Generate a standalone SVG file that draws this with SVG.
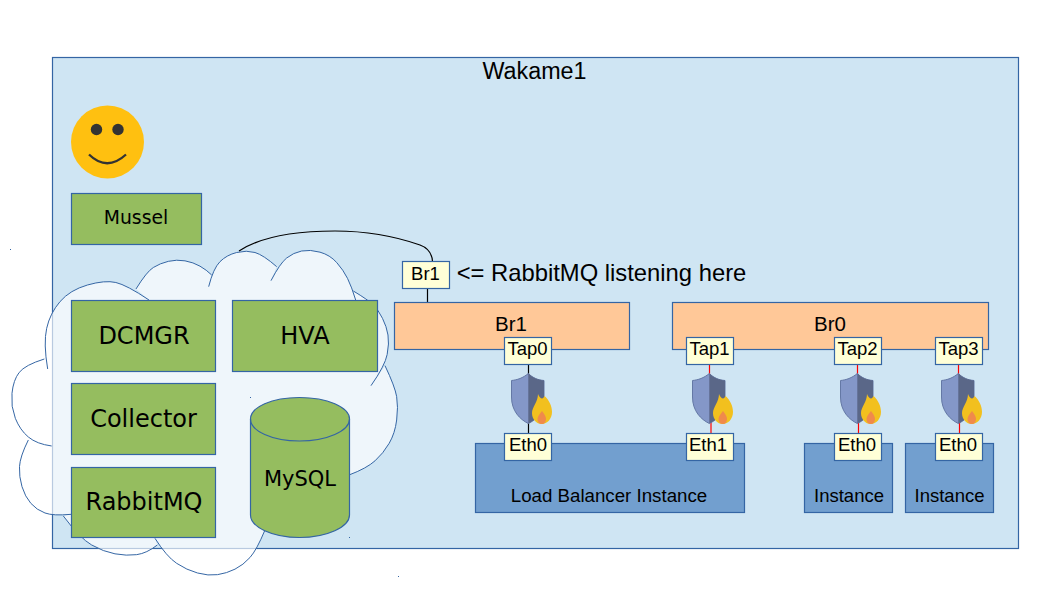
<svg xmlns="http://www.w3.org/2000/svg" width="1058" height="595" viewBox="0 0 1058 595">
<style>
.b{stroke:#3465A4;stroke-width:1.2}
.g{fill:#95BD5F}
.y{fill:#FFFFD7}
.o{fill:#FFC898}
.m{fill:#729FCF}
.d{font-family:"DejaVu Sans",sans-serif;fill:#000;text-anchor:middle}
.l{font-family:"Liberation Sans",Arial,sans-serif;fill:#000;text-anchor:middle}
.c{fill:none;stroke-width:1.2}
</style>
<defs>
<g id="fw">
<path d="M528.3 373.5C523 378 517 380 511.5 380.5V397C511.5 411 520 419.5 528.3 423.5C537 419.5 544 411 544 397V380.5C538 380 533 378 528.3 373.5Z" fill="#8497C8" stroke="#6478A5" stroke-width="1"/>
<path d="M528.3 373.5C533 378 538 380 544 380.5V397C544 411 537 419.5 528.3 423.5Z" fill="#5A6788"/>
<path d="M538 394C540 399 543 400 544.5 396C549 400 552 406 552 412C552 419 547 424 542 424C536 424 532 419 532 413C532 407 538 402 538 394Z" fill="#F2C01E"/>
<path d="M542 411C544 414 546 416 546 419C546 422 544 424 542 424C539 424 537.500 422 537.500 419C537.500 416 540 414 542 411Z" fill="#F08A4B"/>
</g>
</defs>
<rect width="1058" height="595" fill="#fff"/>
<g id="wakame1">
<rect class="b" x="52.500" y="57.500" width="966" height="491" fill="#CFE5F3"/>
<text class="l" x="534.500" y="79" font-size="23.300">Wakame1</text>
</g>
<g id="cloud">
<g transform="translate(0 220) scale(.33333)">
<path fill="#fff" fill-opacity=".66" d="M408 207Q440 155 460 142.500Q480 130 505 124Q530 118 555 122.500Q580 127 600 138.500Q620 150 635 165L626 200Q640 145 660 125Q680 105 710 97.500Q740 90 765 97.500Q790 105 830 140L813 182Q840 130 860 114Q880 98 905 93Q930 88 960 96.500Q990 105 1010 127.500Q1030 150 1042.500 175Q1055 200 1067 240L1060 213Q1105 240 1120 255Q1135 270 1147.500 295Q1160 320 1164 345Q1168 370 1161.500 403.500Q1155 437 1113 497L1155 437Q1185 500 1190 530Q1195 560 1190 600Q1185 640 1167.500 670Q1150 700 1125 722.500Q1100 745 1047 765L795 930Q770 990 750 1012.500Q730 1035 705 1047.500Q680 1060 652.500 1064Q625 1068 592.500 1059Q560 1050 530 1030Q500 1010 465 955L472 975Q440 1000 410 1004Q380 1008 345 1001.500Q310 995 275 975Q240 955 190 888L213 883Q160 888 135 879Q110 870 92.500 850Q75 830 66 800Q57 770 58.500 740Q60 710 85 660L155 678Q110 672 85 651Q60 630 46 595Q32 560 36 520Q40 480 57.500 457.500Q75 435 133 417L143 447Q130 370 140 325Q150 280 180 245Q210 210 262.500 195Q315 180 347.500 187.500Q380 195 447 240Z"/>
<path fill="none" stroke="#3465A4" stroke-width="3" d="M408 207Q440 155 460 142.500Q480 130 505 124Q530 118 555 122.500Q580 127 600 138.500Q620 150 635 165M626 200Q640 145 660 125Q680 105 710 97.500Q740 90 765 97.500Q790 105 830 140M813 182Q840 130 860 114Q880 98 905 93Q930 88 960 96.500Q990 105 1010 127.500Q1030 150 1042.500 175Q1055 200 1067 240M1060 213Q1105 240 1120 255Q1135 270 1147.500 295Q1160 320 1164 345Q1168 370 1161.500 403.500Q1155 437 1113 497M1155 437Q1185 500 1190 530Q1195 560 1190 600Q1185 640 1167.500 670Q1150 700 1125 722.500Q1100 745 1047 765M795 930Q770 990 750 1012.500Q730 1035 705 1047.500Q680 1060 652.500 1064Q625 1068 592.500 1059Q560 1050 530 1030Q500 1010 465 955M472 975Q440 1000 410 1004Q380 1008 345 1001.500Q310 995 275 975Q240 955 190 888M213 883Q160 888 135 879Q110 870 92.500 850Q75 830 66 800Q57 770 58.500 740Q60 710 85 660M155 678Q110 672 85 651Q60 630 46 595Q32 560 36 520Q40 480 57.500 457.500Q75 435 133 417M143 447Q130 370 140 325Q150 280 180 245Q210 210 262.500 195Q315 180 347.500 187.500Q380 195 447 240"/>
</g>
<path fill="#3465A4" d="M10 249h1v1h-1zM250 397h1v1h-1zM349 537h1v1h-1zM398 576h1v1h-1z"/>
</g>
<g id="connectors">
<path class="c" stroke="#000" d="M239 251C262 236 300 231 335 231C370 231 400 238 420 245C428 248 432 253 432.500 261.500"/>
<path class="c" stroke="#000" d="M427.500 288V302M528.500 364V433"/>
<path class="c" stroke="#f00" d="M709.500 364V398M711 420V433M857.500 364V398M858.500 420V433M958.500 364V398M959.500 420V433"/>
</g>
<g id="smiley">
<circle cx="107.500" cy="142" r="36.500" fill="#FFC010"/>
<circle cx="96.500" cy="129.500" r="5.700" fill="#333"/>
<circle cx="118" cy="129.500" r="5.700" fill="#333"/>
<path d="M89 154.500Q107 172 126 154.500" fill="none" stroke="#333" stroke-width="2.300"/>
</g>
<g id="mussel"><rect class="b g" x="71.500" y="193.500" width="130" height="51"/><text class="d" x="136" y="224" font-size="18.800">Mussel</text></g>
<g id="dcmgr"><rect class="b g" x="71.500" y="300.500" width="144" height="71"/><text class="d" x="144" y="344" font-size="24">DCMGR</text></g>
<g id="collector"><rect class="b g" x="71.500" y="383.500" width="144" height="71"/><text class="d" x="143.500" y="427" font-size="24">Collector</text></g>
<g id="rabbitmq"><rect class="b g" x="71.500" y="467.500" width="144" height="70"/><text class="d" x="144" y="510" font-size="24">RabbitMQ</text></g>
<g id="hva"><rect class="b g" x="232.500" y="300.500" width="145" height="71"/><text class="d" x="305" y="344" font-size="24">HVA</text></g>
<g id="mysql">
<path class="b g" d="M250.500 419C250.500 407 272 397.500 299.500 397.500C327 397.500 349.500 407 349.500 419V515C349.500 527 327 537.500 299.500 537.500C272 537.500 250.500 527 250.500 515Z"/>
<path class="c" stroke="#3465A4" d="M250.500 419C250.500 431 272 441 299.500 441C327 441 349.500 431 349.500 419"/>
<text class="d" x="300" y="486" font-size="21">MySQL</text>
</g>
<g id="br1-big"><rect class="b o" x="394.500" y="302.500" width="235" height="47"/><text class="l" x="511" y="331" font-size="20.500">Br1</text></g>
<g id="br0"><rect class="b o" x="672.500" y="302.500" width="316" height="47"/><text class="l" x="830" y="331" font-size="20.500">Br0</text></g>
<g id="br1-small"><rect class="b y" x="402.500" y="261.500" width="47" height="27"/><text class="l" x="425.500" y="280" font-size="18.500">Br1</text></g>
<text class="l" x="601.500" y="281" font-size="23.800">&lt;= RabbitMQ listening here</text>
<g id="lb"><rect class="b m" x="475.500" y="443.500" width="269" height="69"/><text class="l" x="609" y="502" font-size="18.700">Load Balancer Instance</text></g>
<g id="instance1"><rect class="b m" x="804.500" y="443.500" width="88" height="69"/><text class="l" x="849" y="502" font-size="18.500">Instance</text></g>
<g id="instance2"><rect class="b m" x="905.500" y="443.500" width="88" height="69"/><text class="l" x="949.500" y="502" font-size="18.500">Instance</text></g>
<use href="#fw"/>
<use href="#fw" x="181"/>
<use href="#fw" x="329"/>
<use href="#fw" x="430"/>
<g id="tap0"><rect class="b y" x="504.500" y="337.500" width="47" height="27"/><text class="l" x="527.500" y="355" font-size="18.500">Tap0</text></g>
<g id="tap1"><rect class="b y" x="686.500" y="337.500" width="47" height="27"/><text class="l" x="709.500" y="355" font-size="18.500">Tap1</text></g>
<g id="tap2"><rect class="b y" x="834.500" y="337.500" width="47" height="27"/><text class="l" x="857.500" y="355" font-size="18.500">Tap2</text></g>
<g id="tap3"><rect class="b y" x="935.500" y="337.500" width="47" height="27"/><text class="l" x="958.500" y="355" font-size="18.500">Tap3</text></g>
<g id="eth0a"><rect class="b y" x="504.500" y="433.500" width="47" height="27"/><text class="l" x="528" y="451" font-size="18.500">Eth0</text></g>
<g id="eth1"><rect class="b y" x="686.500" y="433.500" width="47" height="27"/><text class="l" x="708" y="451" font-size="18.500">Eth1</text></g>
<g id="eth0b"><rect class="b y" x="834.500" y="433.500" width="47" height="27"/><text class="l" x="857" y="451" font-size="18.500">Eth0</text></g>
<g id="eth0c"><rect class="b y" x="935.500" y="433.500" width="47" height="27"/><text class="l" x="958" y="451" font-size="18.500">Eth0</text></g>
</svg>
